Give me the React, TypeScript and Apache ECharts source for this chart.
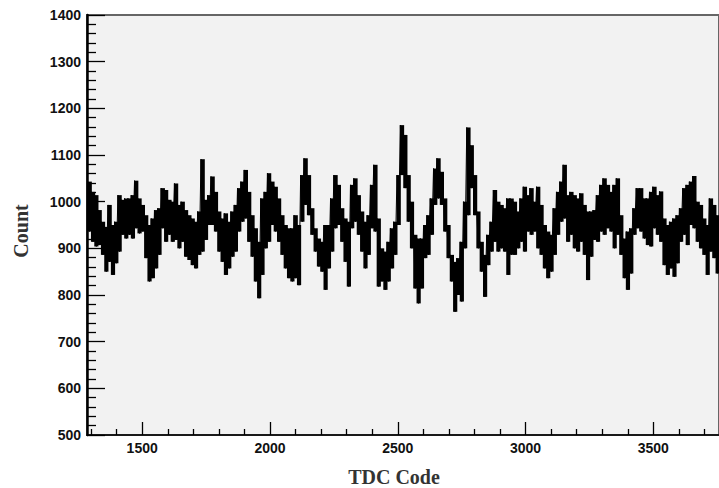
import React, { useEffect, useRef } from "react";
import * as echarts from "echarts";

// Histogram binned in groups of TDC codes; for each bin the upper and lower
// extent of the plotted counts.
const BIN_START = 1288;
const BIN_WIDTH = 13;

const HIGH = [
  1043, 1021, 1014, 982, 957, 946, 993, 950, 957, 1014,
  1004, 1007, 1007, 1014, 1045, 1007, 993, 971, 950, 964,
  982, 986, 1029, 1025, 1004, 1000, 1039, 993, 1000, 982,
  971,
  964, 957, 979, 1091, 1004, 1014, 1054, 1021, 979, 964,
  975, 957, 979, 993, 1029, 1043, 1068, 1021, 971, 943,
  914, 1007, 1021, 1061, 1043, 1032, 1007, 971, 950, 943,
  943, 971,
  950, 1057, 1093, 1057, 986, 943, 921, 914, 950, 950,
  1007, 1057, 1036, 986, 964, 957, 1036, 1050, 1014, 979,
  957, 971, 1036, 1079, 964, 900, 893, 914, 943, 957,
  1057,
  1164, 1143, 1057, 1000, 929, 921, 921, 950, 971, 1007,
  1071, 1093, 1064, 1007, 950, 886, 871, 879, 914, 1000,
  1159, 1121, 1057, 979, 914, 886, 929, 957, 1025, 1000,
  993, 986,
  1007, 1007, 1000, 979, 1007, 1032, 1014, 1029, 1000, 1032,
  993, 950, 936, 929, 986, 1021, 1043, 1079, 1014, 1021,
  1014, 1007, 1018, 993, 979, 979, 982, 1014, 1036, 1050,
  1036, 1021,
  1036, 1050, 971, 921, 936, 943, 986, 1029, 1029, 1007,
  1007, 1021, 1032, 1014, 1022, 964, 950, 957, 964, 971,
  986, 1029, 1036, 1043, 1055, 1000, 993, 964, 950, 1007,
  993, 971,
];

const LOW = [
  936, 914, 904, 907, 886, 850, 871, 843, 868, 893,
  929, 921, 929, 921, 943, 932, 936, 879, 829, 836,
  857, 886, 943, 914, 929, 914, 918, 900, 914, 882,
  875,
  864, 857, 886, 893, 918, 950, 950, 936, 893, 871,
  843, 857, 882, 893, 936, 957, 964, 914, 882, 829,
  793, 843, 900, 914, 950, 936, 914, 886, 857, 836,
  829, 836,
  821, 957, 993, 971, 929, 893, 861, 850, 811, 857,
  893, 943, 950, 914, 871, 818, 943, 957, 929, 893,
  857, 886, 943, 936, 818, 829, 811, 829, 857, 886,
  950,
  1057, 1029, 957, 900, 814, 782, 814, 879, 886, 929,
  993, 1007, 993, 936, 879, 829, 764, 800, 786, 900,
  971, 1029, 971, 900, 850, 796, 864, 893, 914, 893,
  900, 893,
  843, 886, 886, 900, 914, 893, 936, 929, 936, 900,
  886, 857, 836, 850, 886, 929, 957, 964, 914, 929,
  900, 893, 914, 886, 832, 882, 918, 914, 936, 929,
  943, 936,
  900, 929, 886, 836, 811, 846, 929, 943, 936, 921,
  907, 904, 943, 929, 914, 864, 843, 857, 839, 868,
  914, 929, 907, 950, 943, 914, 900, 886, 843, 893,
  879, 846,
];

const X_MIN = 1284;
const X_MAX = 3757;
const X_MAJOR = [1500, 2000, 2500, 3000, 3500];
const X_MINOR = [
  1300, 1400, 1600, 1700, 1800, 1900, 2100, 2200, 2300, 2400,
  2600, 2700, 2800, 2900, 3100, 3200, 3300, 3400, 3600, 3700,
];
const Y_MIN = 500;
const Y_MAX = 1400;
const Y_STEP = 100;

const X_TITLE = "TDC Code";
const Y_TITLE = "Count";

export default function App() {
  const ref = useRef<HTMLDivElement>(null);

  useEffect(() => {
    const chart = echarts.init(ref.current!, null, { renderer: "svg" });
    const zigzag: number[][] = [];
    const bins: number[][] = [];
    HIGH.forEach((h, i) => {
      const x0 = BIN_START + i * BIN_WIDTH;
      zigzag.push([x0, h]);
      zigzag.push([x0 + BIN_WIDTH / 2, LOW[i]]);
      bins.push([x0, LOW[i], h]);
    });

    const labelFont = {
      fontFamily: "Liberation Sans",
      fontWeight: "bold" as const,
      fontSize: 14,
      color: "#111",
    };

    chart.setOption({
      animation: false,
      backgroundColor: "#ffffff",
      grid: {
        left: 87,
        top: 15,
        right: -1,
        bottom: 53,
        show: true,
        backgroundColor: "#f2f2f2",
        borderColor: "#666",
        borderWidth: 2,
      },
      xAxis: [
        {
          type: "value",
          min: X_MIN,
          max: X_MAX,
          splitLine: { show: false },
          axisLine: { show: true, lineStyle: { color: "#000", width: 1.5 } },
          axisTick: {
            show: true,
            inside: true,
            length: 13,
            customValues: X_MAJOR,
            lineStyle: { color: "#000", width: 1.3 },
          },
          axisLabel: {
            ...labelFont,
            margin: 6,
            customValues: X_MAJOR,
            formatter: (v: number) => String(v),
          },
        },
        {
          type: "value",
          min: X_MIN,
          max: X_MAX,
          position: "bottom",
          splitLine: { show: false },
          axisLine: { show: false },
          axisTick: {
            show: true,
            inside: true,
            length: 6,
            customValues: X_MINOR,
            lineStyle: { color: "#000", width: 1.3 },
          },
          axisLabel: { show: false },
        },
      ],
      yAxis: {
        type: "value",
        min: Y_MIN,
        max: Y_MAX,
        interval: Y_STEP,
        splitLine: { show: false },
        axisLine: { show: true, lineStyle: { color: "#000", width: 2.5 } },
        axisTick: {
          show: true,
          inside: true,
          length: 18,
          lineStyle: { color: "#000", width: 1.3 },
        },
        minorTick: {
          show: true,
          splitNumber: 5,
          length: 9,
          lineStyle: { color: "#000", width: 1.3 },
        },
        axisLabel: {
          ...labelFont,
          margin: 6,
          formatter: (v: number) => String(v),
        },
      },
      series: [
        {
          type: "custom",
          xAxisIndex: 0,
          data: bins,
          encode: { x: 0, y: [1, 2] },
          renderItem: (params: any, api: any) => {
            const x0 = api.value(0);
            const lo = api.value(1);
            const hi = api.value(2);
            const p1 = api.coord([x0, hi]);
            const p2 = api.coord([x0 + BIN_WIDTH, lo]);
            return {
              type: "rect",
              shape: {
                x: p1[0] - 0.4,
                y: p1[1],
                width: p2[0] - p1[0] + 0.9,
                height: p2[1] - p1[1],
              },
              style: { fill: "#000" },
            };
          },
        },
        {
          type: "line",
          xAxisIndex: 0,
          data: zigzag,
          symbol: "none",
          lineStyle: { color: "#000", width: 1 },
        },
      ],
      graphic: [
        {
          type: "text",
          x: 394,
          y: 477,
          style: {
            text: X_TITLE,
            fontFamily: "Liberation Serif",
            fontWeight: "bold",
            fontSize: 20,
            fill: "#333",
            textAlign: "center",
            textVerticalAlign: "middle",
          },
        },
        {
          type: "text",
          x: 21,
          y: 231,
          rotation: Math.PI / 2,
          style: {
            text: Y_TITLE,
            fontFamily: "Liberation Serif",
            fontWeight: "bold",
            fontSize: 20,
            fill: "#333",
            textAlign: "center",
            textVerticalAlign: "middle",
          },
        },
      ],
    });

    return () => chart.dispose();
  }, []);

  return (
    <div
      ref={ref}
      style={{
        position: "fixed",
        left: 0,
        top: 0,
        width: 719,
        height: 488,
        background: "#fff",
      }}
    />
  );
}
